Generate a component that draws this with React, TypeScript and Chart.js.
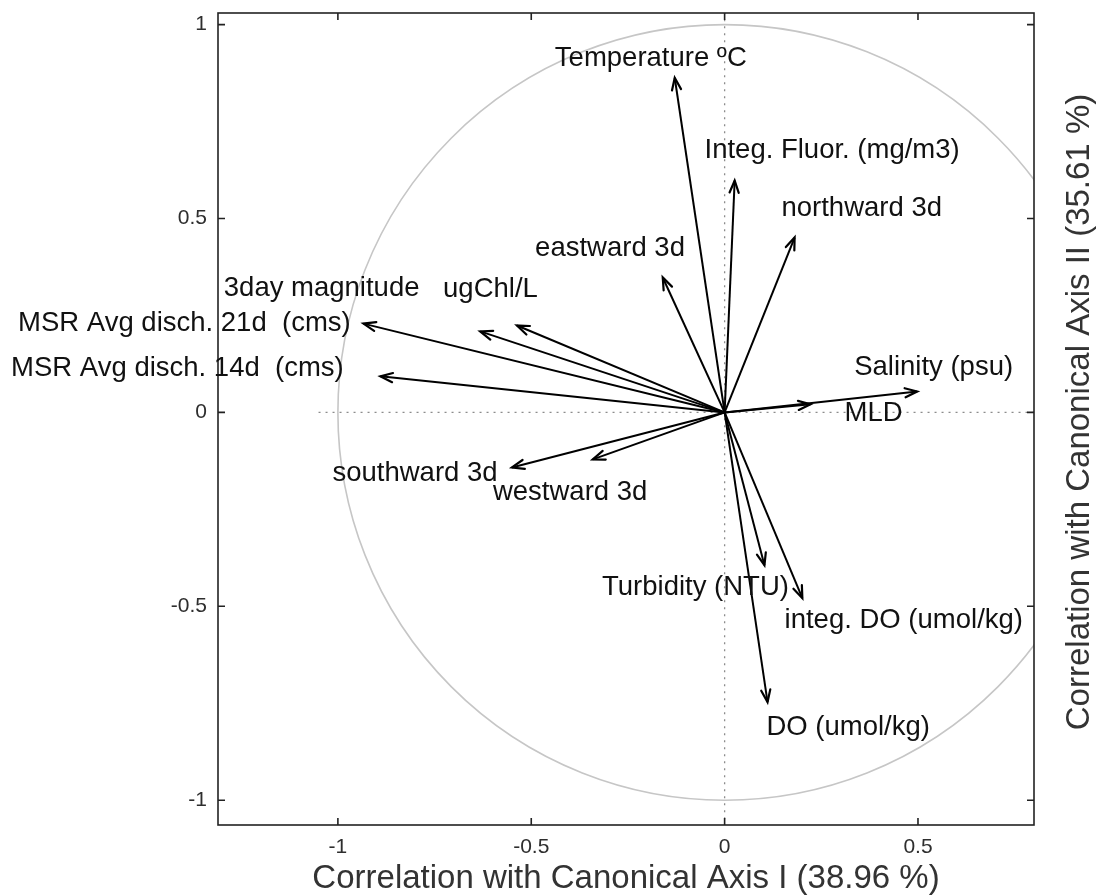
import React, { useEffect, useRef } from "react";
import { Chart, registerables } from "chart.js";

Chart.register(...registerables);

// ---- Data ----
const variableNames = [
  "Temperature ºC",
  "Integ. Fluor. (mg/m3)",
  "northward 3d",
  "eastward 3d",
  "3day magnitude",
  "ugChl/L",
  "MSR Avg disch. 21d  (cms)",
  "MSR Avg disch. 14d  (cms)",
  "Salinity (psu)",
  "MLD",
  "southward 3d",
  "westward 3d",
  "Turbidity (NTU)",
  "integ. DO (umol/kg)",
  "DO (umol/kg)",
];
// correlation with canonical axis I
const axisI = [-0.129, 0.026, 0.181, -0.16, -0.632, -0.537, -0.934, -0.89, 0.498, 0.222, -0.55, -0.341, 0.103, 0.201, 0.111];
// correlation with canonical axis II
const axisII = [0.863, 0.598, 0.451, 0.348, 0.209, 0.224, 0.229, 0.093, 0.054, 0.021, -0.142, -0.121, -0.394, -0.479, -0.747];
// label anchors (data coordinates, left/middle of text)
const labelAnchorX = [-0.439, -0.052, 0.147, -0.49, -1.295, -0.728, -1.827, -1.845, 0.335, 0.31, -1.014, -0.599, -0.317, 0.155, 0.108];
const labelAnchorY = [0.912, 0.675, 0.526, 0.423, 0.32, 0.317, 0.229, 0.113, 0.116, -0.003, -0.157, -0.206, -0.451, -0.536, -0.812];

const xTicks = [-1, -0.5, 0, 0.5];
const yTicks = [-1, -0.5, 0, 0.5, 1];
const xTitle = "Correlation with Canonical Axis I (38.96 %)";
const yTitle = "Correlation with Canonical Axis II (35.61 %)";

const FONT = "'Liberation Sans', Arial, Helvetica, sans-serif";

export default function App() {
  const ref = useRef<HTMLCanvasElement>(null);

  useEffect(() => {
    if (!ref.current) return;

    const datasets = variableNames.map((name, i) => ({
      label: name,
      data: [
        { x: 0, y: 0 },
        { x: axisI[i], y: axisII[i] },
      ],
      showLine: true,
      borderColor: "#000",
      borderWidth: 2,
      pointRadius: 0,
      pointHoverRadius: 0,
      fill: false,
    }));

    const biplot = {
      id: "biplot",
      beforeDatasetsDraw(chart: any) {
        const { ctx, chartArea, scales } = chart;
        const xs = scales.x;
        const ys = scales.y;
        ctx.save();
        ctx.beginPath();
        ctx.rect(chartArea.left, chartArea.top, chartArea.right - chartArea.left, chartArea.bottom - chartArea.top);
        ctx.clip();
        const cx = xs.getPixelForValue(0);
        const cy = ys.getPixelForValue(0);
        const rx = xs.getPixelForValue(1) - cx;
        const ry = cy - ys.getPixelForValue(1);
        ctx.strokeStyle = "#c6c6c6";
        ctx.lineWidth = 1.6;
        ctx.beginPath();
        ctx.ellipse(cx, cy, rx, ry, 0, 0, Math.PI * 2);
        ctx.stroke();
        ctx.strokeStyle = "#8c8c8c";
        ctx.lineWidth = 1.3;
        ctx.setLineDash([2, 5]);
        ctx.beginPath();
        ctx.moveTo(xs.getPixelForValue(-1.05), cy);
        ctx.lineTo(xs.getPixelForValue(1.05), cy);
        ctx.moveTo(cx, ys.getPixelForValue(1.05));
        ctx.lineTo(cx, ys.getPixelForValue(-1.05));
        ctx.stroke();
        ctx.restore();
      },
      afterDatasetsDraw(chart: any) {
        const { ctx, chartArea, scales } = chart;
        const xs = scales.x;
        const ys = scales.y;
        const cx = xs.getPixelForValue(0);
        const cy = ys.getPixelForValue(0);
        ctx.save();
        // arrowheads
        ctx.strokeStyle = "#000";
        ctx.lineWidth = 2.2;
        ctx.lineCap = "round";
        const L = 13;
        const th = 0.36;
        for (let i = 0; i < axisI.length; i++) {
          const tx = xs.getPixelForValue(axisI[i]);
          const ty = ys.getPixelForValue(axisII[i]);
          const a = Math.atan2(ty - cy, tx - cx);
          ctx.beginPath();
          ctx.moveTo(tx - L * Math.cos(a - th), ty - L * Math.sin(a - th));
          ctx.lineTo(tx, ty);
          ctx.lineTo(tx - L * Math.cos(a + th), ty - L * Math.sin(a + th));
          ctx.stroke();
        }
        // box
        ctx.lineCap = "butt";
        ctx.strokeStyle = "#222";
        ctx.lineWidth = 1.6;
        ctx.strokeRect(chartArea.left, chartArea.top, chartArea.right - chartArea.left, chartArea.bottom - chartArea.top);
        // inward ticks
        const T = 7;
        ctx.beginPath();
        xTicks.forEach((v) => {
          const px = xs.getPixelForValue(v);
          ctx.moveTo(px, chartArea.bottom);
          ctx.lineTo(px, chartArea.bottom - T);
          ctx.moveTo(px, chartArea.top);
          ctx.lineTo(px, chartArea.top + T);
        });
        yTicks.forEach((v) => {
          const py = ys.getPixelForValue(v);
          ctx.moveTo(chartArea.left, py);
          ctx.lineTo(chartArea.left + T, py);
          ctx.moveTo(chartArea.right, py);
          ctx.lineTo(chartArea.right - T, py);
        });
        ctx.stroke();
        // variable labels
        ctx.fillStyle = "#111";
        ctx.font = `27.5px ${FONT}`;
        ctx.textAlign = "left";
        ctx.textBaseline = "middle";
        variableNames.forEach((name, i) => {
          ctx.fillText(name, xs.getPixelForValue(labelAnchorX[i]), ys.getPixelForValue(labelAnchorY[i]));
        });
        // right-side y title
        ctx.fillStyle = "#333";
        ctx.font = `33px ${FONT}`;
        ctx.textAlign = "center";
        ctx.textBaseline = "middle";
        ctx.translate(1080, 412);
        ctx.rotate(-Math.PI / 2);
        ctx.fillText(yTitle, 0, 0);
        ctx.restore();
      },
    };

    const chart = new Chart(ref.current, {
      type: "scatter",
      data: { datasets },
      options: {
        animation: false,
        responsive: false,
        maintainAspectRatio: false,
        layout: { padding: { top: 13, right: 70, left: 0, bottom: 0 } },
        plugins: {
          legend: { display: false },
          tooltip: { enabled: false },
        },
        events: [],
        scales: {
          x: {
            type: "linear",
            min: -1.31,
            max: 0.8,
            grid: { display: false, drawTicks: false },
            border: { display: false },
            afterBuildTicks: (scale: any) => {
              scale.ticks = xTicks.map((v) => ({ value: v }));
            },
            afterFit: (scale: any) => {
              scale.height = 71;
              scale.paddingLeft = 0;
              scale.paddingRight = 0;
            },
            ticks: {
              padding: 10,
              color: "#2e2e2e",
              font: { family: FONT, size: 21 },
              callback: (v: any) => String(v),
              maxRotation: 0,
            },
            title: {
              display: true,
              text: xTitle,
              color: "#333",
              font: { family: FONT, size: 33 },
              padding: { top: 0, bottom: -3 },
            },
          },
          y: {
            type: "linear",
            min: -1.064,
            max: 1.03,
            grid: { display: false, drawTicks: false },
            border: { display: false },
            afterBuildTicks: (scale: any) => {
              scale.ticks = yTicks.map((v) => ({ value: v }));
            },
            afterFit: (scale: any) => {
              scale.width = 218;
              scale.paddingTop = 0;
              scale.paddingBottom = 0;
            },
            ticks: {
              padding: 11,
              color: "#2e2e2e",
              font: { family: FONT, size: 21 },
              callback: (v: any) => String(v),
            },
          },
        },
      },
      plugins: [biplot],
    } as any);

    return () => chart.destroy();
  }, []);

  return (
    <div style={{ position: "fixed", left: 0, top: 0, width: 1104, height: 896, background: "#fff" }}>
      <canvas ref={ref} width={1104} height={896} style={{ display: "block" }} />
    </div>
  );
}
